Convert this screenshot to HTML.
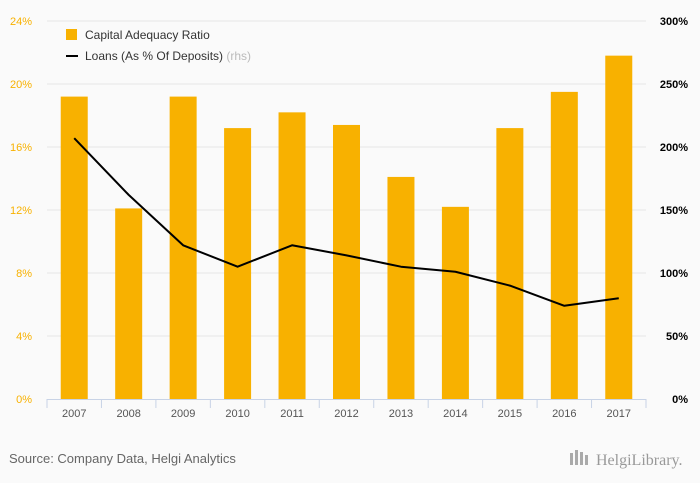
<!DOCTYPE html>
<html><head><meta charset="utf-8"><style>
html,body{margin:0;padding:0;background:#fafafa;}
svg{display:block;font-family:"Liberation Sans",sans-serif;}
</style></head><body>
<svg id="chart" width="700" height="483" viewBox="0 0 700 483">
  <rect x="0" y="0" width="700" height="483" fill="#fafafa"/>
  <g id="grid"></g>
  <g id="bars"></g>
  <g id="line"></g>
  <g id="axes"></g>
  <g>
    <rect x="66" y="29" width="11" height="11" fill="#f8b100"/>
    <text x="85" y="39" font-size="12" fill="#333">Capital Adequacy Ratio</text>
    <line x1="66" y1="56" x2="78" y2="56" stroke="#000" stroke-width="2"/>
    <text x="85" y="60" font-size="12" fill="#333">Loans (As % Of Deposits) <tspan fill="#bbb">(rhs)</tspan></text>
  </g>
  <text x="9" y="463" font-size="13" fill="#666">Source: Company Data, Helgi Analytics</text>
  <g>
    <rect x="570" y="453" width="3" height="12" fill="#aaa"/><rect x="575" y="450" width="3" height="15" fill="#aaa"/><rect x="580" y="452" width="3" height="13" fill="#aaa"/><rect x="585" y="455" width="3" height="10" fill="#aaa"/>
    <text x="596" y="465" font-size="16" fill="#999" font-family="Liberation Serif,serif">HelgiLibrary.</text>
  </g>
</svg>
<script>
const categories = ["2007","2008","2009","2010","2011","2012","2013","2014","2015","2016","2017"];
const carValues = [19.2,12.1,19.2,17.2,18.2,17.4,14.1,12.2,17.2,19.5,21.8];
const loanValues = [207,162,122,105,122,114,105,101,90,74,80];
const leftTicks = [0,4,8,12,16,20,24];
const rightTicks = [0,50,100,150,200,250,300];

const NS="http://www.w3.org/2000/svg";
const X0=47,X1=646,Y0=399,Y1=21;
const band=(X1-X0)/categories.length;
const xc=i=>X0+band*(i+0.5);
const yL=v=>Y0-(v/24)*(Y0-Y1);
const yR=v=>Y0-(v/300)*(Y0-Y1);
function mk(tag,attrs,parent,txt){const e=document.createElementNS(NS,tag);for(const k in attrs)e.setAttribute(k,attrs[k]);if(txt!==undefined)e.textContent=txt;parent.appendChild(e);return e;}
const grid=document.getElementById('grid'),bars=document.getElementById('bars'),line=document.getElementById('line'),axes=document.getElementById('axes');

leftTicks.forEach((t,i)=>{
  const y=yL(t);
  if(t>0){const g=mk('line',{x1:X0,x2:X1,y1:y,y2:y,stroke:'#e6e6e6','stroke-width':1},grid);
  
  }
  const l=mk('text',{x:32,y:y+4,'font-size':11,fill:'#f8b100','text-anchor':'end'},axes,t+'%');
  
  
});
rightTicks.forEach(t=>{
  const r=mk('text',{x:688,y:yR(t)+4,'font-size':11,fill:'#000','text-anchor':'end','font-weight':'bold'},axes,t+'%');
  
  
});
const ax=mk('line',{x1:X0,x2:X1,y1:Y0+0.5,y2:Y0+0.5,stroke:'#c8d3e6','stroke-width':1},axes);


for(let i=0;i<=categories.length;i++){
  const x=X0+band*i;
  const tk=mk('line',{x1:x,x2:x,y1:Y0,y2:Y0+9,stroke:'#c8d3e6','stroke-width':1},axes);
  
  
}
categories.forEach((c,i)=>{
  const t=mk('text',{x:xc(i),y:417,'font-size':11,fill:'#555','text-anchor':'middle'},axes,c);
  
  
  const b=mk('rect',{x:xc(i)-13.5,y:yL(carValues[i]),width:27,height:Y0-yL(carValues[i]),fill:'#f8b100'},bars);
  
  
});
const pts=loanValues.map((v,i)=>xc(i)+','+yR(v)).join(' ');
const pl=mk('polyline',{points:pts,fill:'none',stroke:'#000','stroke-width':2,'stroke-linejoin':'round'},line);


</script>
</body></html>
